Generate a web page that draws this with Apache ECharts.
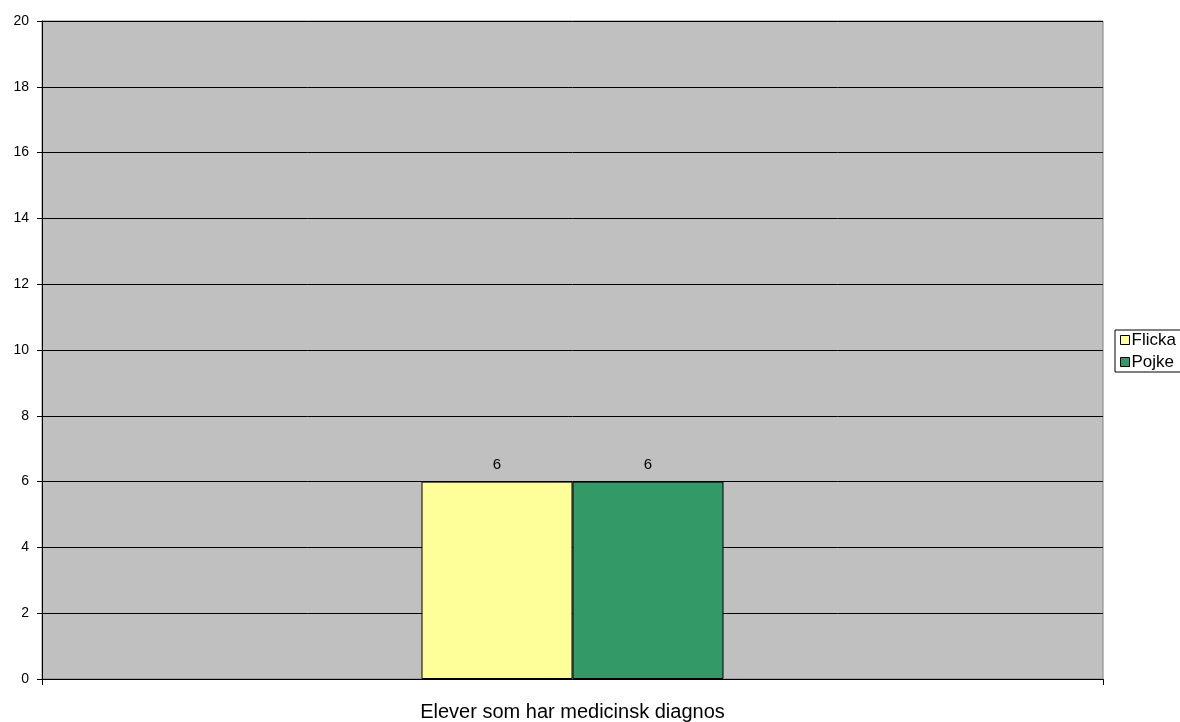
<!DOCTYPE html>
<html>
<head>
<meta charset="utf-8">
<script src="https://cdn.jsdelivr.net/npm/echarts@6/dist/echarts.min.js"></script>
<style>
  html, body { margin: 0; padding: 0; background: #fff; overflow: hidden; }
  #chart { width: 1180px; height: 722px; }
</style>
</head>
<body>
<div id="chart"></div>
<script>
// Chart data
const categories = ['Elever som har medicinsk diagnos'];
const seriesNames = ['Flicka', 'Pojke'];
const flickaValues = [6];
const pojkeValues = [6];
const yTicks = { min: 0, max: 20, interval: 2 };

const FONT = '"Liberation Sans", Arial, sans-serif';
const colors = ['#FFFF99', '#339966'];

const chart = echarts.init(document.getElementById('chart'), null, { renderer: 'canvas' });

const barSeries = (name, values, color) => ({
  name: name,
  type: 'bar',
  data: values,
  barWidth: 151,
  barGap: '0%',
  itemStyle: { color: color, borderColor: '#000', borderWidth: 1 },
  label: {
    show: true,
    position: 'top',
    distance: 9,
    color: '#000',
    fontFamily: FONT,
    fontSize: 15
  },
  emphasis: { disabled: true }
});

chart.setOption({
  animation: false,
  backgroundColor: '#fff',
  textStyle: { fontFamily: FONT },
  grid: {
    left: 42, right: 77, top: 21, bottom: 42,
    show: true,
    backgroundColor: '#C0C0C0',
    borderColor: '#808080',
    borderWidth: 1
  },
  legend: {
    orient: 'vertical',
    left: 1115,
    top: 330,
    data: seriesNames,
    itemWidth: 9,
    itemHeight: 9,
    itemGap: 4,
    padding: [1, 6, 1, 5],
    backgroundColor: '#fff',
    borderColor: '#000',
    borderWidth: 1,
    borderRadius: 0,
    icon: 'rect',
    itemStyle: { borderColor: '#000', borderWidth: 1 },
    textStyle: { color: '#000', fontSize: 17, lineHeight: 18, fontFamily: FONT, padding: [0, 0, 0, -3] }
  },
  xAxis: {
    type: 'category',
    data: categories,
    axisLine: { show: true, lineStyle: { color: '#000', width: 1 } },
    axisTick: { show: true, alignWithLabel: false, length: 6, lineStyle: { color: '#000' } },
    axisLabel: { color: '#000', fontSize: 20, fontFamily: FONT, margin: 23 },
    splitLine: { show: false }
  },
  yAxis: {
    type: 'value',
    min: yTicks.min,
    max: yTicks.max,
    interval: yTicks.interval,
    axisLine: { show: true, lineStyle: { color: '#000', width: 1 } },
    axisTick: { show: true, length: 5, lineStyle: { color: '#000' } },
    axisLabel: { color: '#000', fontSize: 14, fontFamily: FONT, margin: 13 },
    splitLine: { show: true, lineStyle: { color: '#000', width: 1 } }
  },
  series: [
    barSeries(seriesNames[0], flickaValues, colors[0]),
    barSeries(seriesNames[1], pojkeValues, colors[1])
  ]
});
</script>
</body>
</html>
